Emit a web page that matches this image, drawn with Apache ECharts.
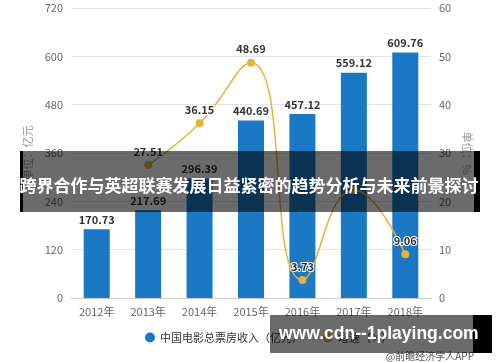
<!DOCTYPE html>
<html><head><meta charset="utf-8">
<script src="https://cdn.jsdelivr.net/npm/echarts@6/dist/echarts.min.js"></script>
<style>html,body{margin:0;padding:0;background:#fff}#c{width:500px;height:362px}</style>
</head><body><div id="c"></div>
<script>
var categories = ['2012年','2013年','2014年','2015年','2016年','2017年','2018年'];
var boxOffice = [170.73, 217.69, 296.39, 440.69, 457.12, 559.12, 609.76];
var growth = [null, 27.51, 36.15, 48.69, 3.73, 22.32, 9.06];
var hiddenLabelIndex = 5;
var leftTicks = [0, 720, 120];
var rightTicks = [0, 60, 10];
var seriesNames = ['中国电影总票房收入（亿元）', '增速（%）'];
var titleText = '跨界合作与英超联赛发展日益紧密的趋势分析与未来前景探讨';
var watermarkText = 'www.cdn--1playing.com';
var sourceText = '@前瞻经济学人APP';

var font = '"Noto Sans CJK SC", "Noto Sans", sans-serif';
var growthData = growth.map(function (v, i) {
  return i === hiddenLabelIndex ? {value: v, label: {show: false}} : v;
});
var chart = echarts.init(document.getElementById('c'));
chart.setOption({
  animation: false,
  textStyle: {fontFamily: font},
  grid: {left: 71, right: 69, top: 8, bottom: 64},
  legend: {
    bottom: 14, left: 140, itemGap: 20, icon: 'circle', itemWidth: 10, itemHeight: 10,
    textStyle: {color: '#333', fontSize: 11, fontFamily: font},
    data: seriesNames
  },
  xAxis: {
    type: 'category', data: categories,
    axisLine: {lineStyle: {color: '#ccc'}},
    axisTick: {show: false},
    axisLabel: {color: '#666', fontSize: 11, margin: 8}
  },
  yAxis: [{
    type: 'value', min: leftTicks[0], max: leftTicks[1], interval: leftTicks[2],
    name: '单位：亿元', nameLocation: 'middle', nameGap: 27, nameRotate: 90,
    nameTextStyle: {color: '#999', fontSize: 11},
    axisLine: {show: false}, axisTick: {show: false},
    axisLabel: {color: '#666', fontSize: 11},
    splitLine: {lineStyle: {color: '#e3e3e3'}}
  }, {
    type: 'value', min: rightTicks[0], max: rightTicks[1], interval: rightTicks[2],
    name: '单位：%', nameLocation: 'middle', nameGap: 28, nameRotate: -90,
    nameTextStyle: {color: '#999', fontSize: 11},
    axisLine: {show: false}, axisTick: {show: false},
    axisLabel: {color: '#666', fontSize: 11},
    splitLine: {show: false}
  }],
  series: [{
    name: seriesNames[0], type: 'bar', data: boxOffice, barWidth: 26,
    itemStyle: {color: '#1a78c4'},
    label: {show: true, position: 'top', color: '#333', fontWeight: 'bold', fontSize: 11, distance: 4}
  }, {
    name: seriesNames[1], type: 'line', yAxisIndex: 1, data: growthData, smooth: true,
    symbol: 'circle', symbolSize: 8,
    lineStyle: {color: '#e6b33a', width: 1.5},
    itemStyle: {color: '#e6b33a'},
    label: {show: true, position: 'top', color: '#333', fontWeight: 'bold', fontSize: 11,
            textBorderColor: '#fff', textBorderWidth: 2, distance: 4}
  }],
  graphic: [
    {type: 'rect', shape: {x: 20, y: 151, width: 460, height: 61}, style: {fill: 'rgba(0,0,0,0.58)'}, z: 100},
    {type: 'rect', shape: {x: 20, y: 151, width: 3, height: 61}, style: {fill: '#000'}, z: 101},
    {type: 'rect', shape: {x: 474, y: 151, width: 6, height: 61}, style: {fill: '#000'}, z: 101},
    {type: 'text', x: 249, y: 186, z: 102, style: {text: titleText, fill: '#fff', font: 'bold 17px ' + font, textAlign: 'center', textVerticalAlign: 'middle'}},
    {type: 'text', right: 26, bottom: 1, z: 50, style: {text: sourceText, fill: '#555', font: '10px ' + font}},
    {type: 'rect', shape: {x: 270, y: 315, width: 222, height: 38}, style: {fill: 'rgba(0,0,0,0.58)'}, z: 100},
    {type: 'rect', shape: {x: 473, y: 315, width: 19, height: 38}, style: {fill: '#000'}, z: 101},
    {type: 'text', x: 279, y: 334, z: 102, style: {text: watermarkText, fill: '#fff', font: 'bold 17.5px "Liberation Sans", sans-serif', textAlign: 'left', textVerticalAlign: 'middle'}}
  ]
});
</script></body></html>
